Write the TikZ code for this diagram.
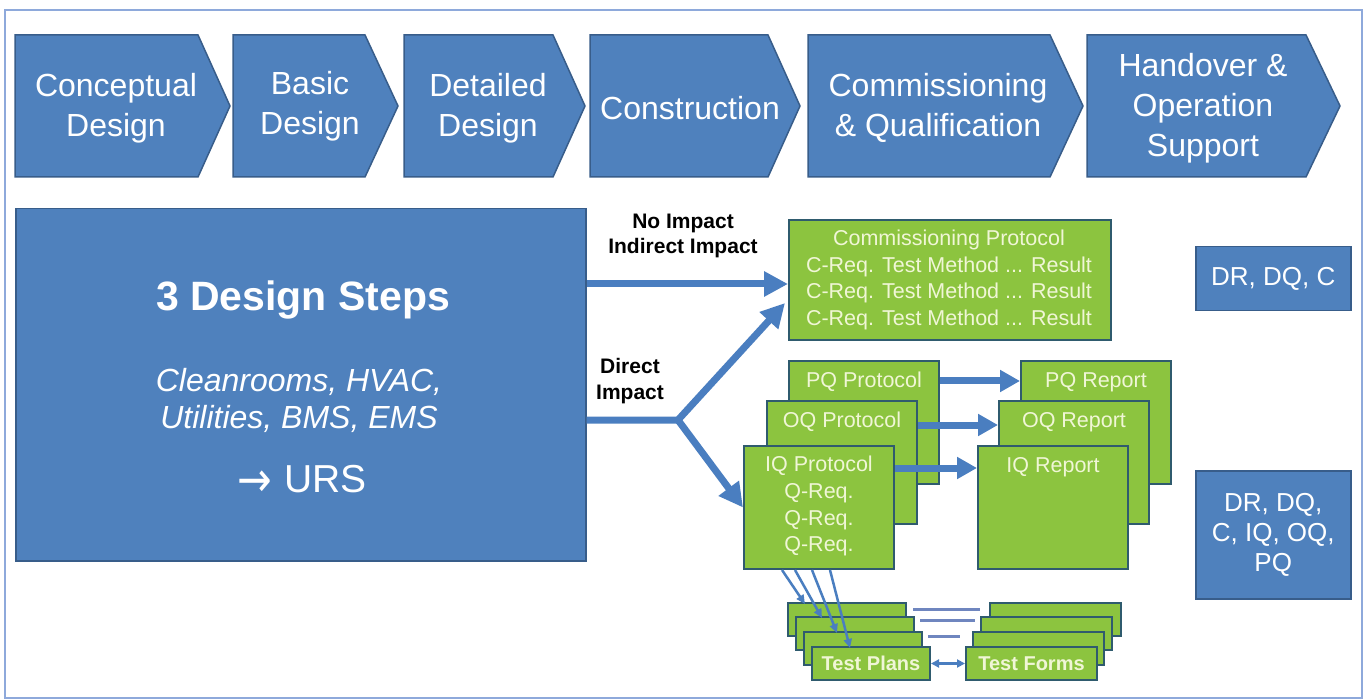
\documentclass[tikz,border=0pt]{standalone}
\usepackage{fontspec}
\setmainfont{Liberation Sans}
\newfontfamily\arrowfont{DejaVu Sans}
\usetikzlibrary{arrows.meta,calc}
\definecolor{bluefill}{HTML}{4F81BD}
\definecolor{blueedge}{HTML}{385D8A}
\definecolor{arrowblue}{HTML}{4A7EC0}
\definecolor{greenfill}{HTML}{8CC43F}
\definecolor{greenedge}{HTML}{2F5B6E}
\definecolor{greentext}{HTML}{F0F6D6}
\definecolor{framecol}{HTML}{8EA9DB}
\definecolor{eqline}{HTML}{6F86BF}
\tikzset{
  chev/.style={fill=bluefill, draw=blueedge, line width=1.5pt},
  chevtext/.style={text=white, font=\fontsize{32}{40}\selectfont, align=center, inner sep=0pt},
  bluebox/.style={fill=bluefill, draw=blueedge, line width=1.5pt, anchor=north west, inner sep=0pt},
  greenbox/.style={fill=greenfill, draw=greenedge, line width=2pt, anchor=north west, inner sep=0pt},
  protobox/.style={greenbox, minimum width=150pt, minimum height=123pt},
  planbox/.style={greenbox, minimum height=33pt},
  gtext/.style={text=greentext, font=\fontsize{21.5}{26.7}\selectfont, align=center, inner sep=0pt},
  btext/.style={text=white, font=\fontsize{26}{30}\selectfont, align=center, inner sep=0pt},
  label/.style={text=black, font=\bfseries\fontsize{21}{25.5}\selectfont, align=center, inner sep=0pt},
  bigline/.style={draw=arrowblue, line width=7pt},
  bigarrow/.style={bigline, -{Triangle[length=24pt,width=24pt]}},
  midarrow/.style={bigline, -{Triangle[length=20pt,width=21pt]}},
  thinarrow/.style={draw=arrowblue, line width=2.5pt, -{Triangle[length=9pt,width=8pt]}},
  thinboth/.style={draw=arrowblue, line width=2.5pt, {Triangle[length=8pt,width=8pt]}-{Triangle[length=8pt,width=8pt]}},
  eqstroke/.style={draw=eqline, line width=3pt}
}
\begin{document}
\begin{tikzpicture}[x=1pt,y=-1pt]
\useasboundingbox (0,0) rectangle (1368,700);
\fill[white] (0,0) rectangle (1368,700);
\draw[framecol, line width=2pt] (5,10) rectangle (1362,698);

% phase chevrons
\foreach \a/\b/\c in {15/198/230, 233/365/398, 404/553/585, 590/768/800, 808/1050/1083, 1087/1306/1340}
  \draw[chev] (\a,35) -- (\b,35) -- (\c,106) -- (\b,177) -- (\a,177) -- cycle;
\node[chevtext] (s1) at (116,108) {Conceptual\\Design};
\node[chevtext] (s2) at (310,106) {Basic\\Design};
\node[chevtext] (s3) at (488,108) {Detailed\\Design};
\node[chevtext] (s4) at (690,108) {Construction};
\node[chevtext] (s5) at (938,108) {Commissioning\\\& Qualification};
\node[chevtext] (s6) at (1203,108) {Handover \&\\Operation\\Support};

% design steps block
\node[bluebox, minimum width=570pt, minimum height=352pt] (steps) at (15,208) {};
\node[text=white, font=\bfseries\fontsize{41}{48}\selectfont, inner sep=0pt] (t1) at (303,300) {3 Design Steps};
\node[text=white, font=\itshape\fontsize{32}{37}\selectfont, align=center, inner sep=0pt] (t2) at (299,400) {Cleanrooms, HVAC,\\Utilities, BMS, EMS};
\node[text=white, font=\fontsize{39}{44}\selectfont, inner sep=0pt, anchor=base] (t3) at (302,492) {\raisebox{-4pt}{\scalebox{1.15}[1.35]{\arrowfont\fontsize{36}{40}\selectfont →}}\hspace{12pt}URS};

% commissioning protocol
\node[greenbox, minimum width=322pt, minimum height=120pt] (comm) at (788,219) {};
\node[gtext] (commtxt) at (949,280) {Commissioning Protocol\\C-Req. Test Method ... Result\\C-Req. Test Method ... Result\\C-Req. Test Method ... Result};

% impact labels
\node[label] (noimp) at (683,236) {No Impact\\Indirect Impact};
\node[label] (dirimp) at (630,381) {Direct\\Impact};

% qualification protocols and reports
\node[protobox] (pq) at (788,360) {};
\node[protobox] (oq) at (766,400) {};
\node[protobox] (iq) at (743,445) {};
\node[gtext] (pqt) at ($(pq.north)+(0,22)$) {PQ Protocol};
\node[gtext] (oqt) at ($(oq.north)+(0,22)$) {OQ Protocol};
\node[gtext, anchor=north] (iqt) at ($(iq.north)+(0,11)$) {IQ Protocol\\Q-Req.\\Q-Req.\\Q-Req.};
\node[protobox] (pqr) at (1020,360) {};
\node[protobox] (oqr) at (998,400) {};
\node[protobox] (iqr) at (977,445) {};
\node[gtext] (pqrt) at ($(pqr.north)+(0,22)$) {PQ Report};
\node[gtext] (oqrt) at ($(oqr.north)+(0,22)$) {OQ Report};
\node[gtext] (iqrt) at ($(iqr.north)+(0,22)$) {IQ Report};

\draw[midarrow] ($(pq.north east)+(0,21)$) -- ($(pqr.north west)+(0,21)$);
\draw[midarrow] ($(oq.north east)+(0,25)$) -- ($(oqr.north west)+(0,25)$);
\draw[midarrow] ($(iq.north east)+(0,23)$) -- ($(iqr.north west)+(0,23)$);

% test plans and test forms
\node[planbox, minimum width=118pt] (tp1) at (787,602) {};
\node[planbox, minimum width=118pt] (tp2) at (795,616) {};
\node[planbox, minimum width=118pt] (tp3) at (803,631) {};
\node[planbox, minimum width=118pt, text=greentext, font=\bfseries\fontsize{20}{24}\selectfont] (tp4) at (811,646) {Test Plans};
\node[planbox, minimum width=131pt] (tf1) at (989,602) {};
\node[planbox, minimum width=131pt] (tf2) at (980,616) {};
\node[planbox, minimum width=131pt] (tf3) at (972,631) {};
\node[planbox, minimum width=131pt, text=greentext, font=\bfseries\fontsize{20}{24}\selectfont] (tf4) at (965,646) {Test Forms};

\draw[eqstroke] (913,609) -- (980,609);
\draw[eqstroke] (920,620) -- (975,620);
\draw[eqstroke] (928,636) -- (960,636);
\draw[thinboth] (tp4.east) -- (tf4.west);

\draw[thinarrow] ($(iq.south west)+(39,0)$) -- ($(tp1.north west)+(18,2)$);
\draw[thinarrow] ($(iq.south west)+(52,0)$) -- ($(tp2.north west)+(27,2)$);
\draw[thinarrow] ($(iq.south west)+(69,0)$) -- ($(tp3.north west)+(34,2)$);
\draw[thinarrow] ($(iq.south west)+(87,0)$) -- ($(tp4.north west)+(39,2)$);

% impact routes
\coordinate (j) at (678,420);
\coordinate (upend) at ($(comm.south west)+(-3,-38)$);
\draw[bigarrow] (steps.east |- 0,284) -- (comm.west |- 0,284);
\draw[bigarrow] (steps.east |- j) -- (j) -- (upend);
\draw[bigarrow] (j) -- (iq.west);

% qualification scope boxes
\node[bluebox, minimum width=155pt, minimum height=64pt] (scope1) at (1195,246) {};
\node[btext] (sc1t) at (scope1.center) {DR, DQ, C};
\node[bluebox, minimum width=155pt, minimum height=128pt] (scope2) at (1195,470) {};
\node[btext] (sc2t) at (scope2.center) {DR, DQ,\\C, IQ, OQ,\\PQ};
\end{tikzpicture}
\end{document}
